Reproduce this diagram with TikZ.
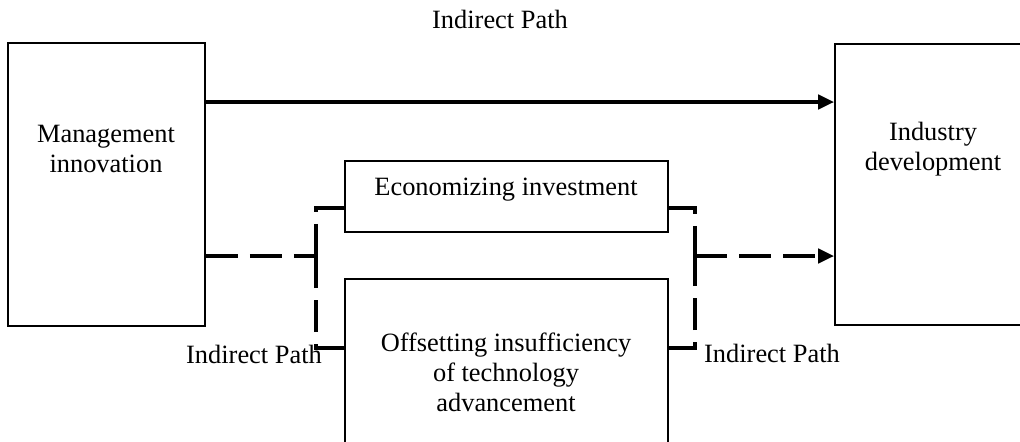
\documentclass[tikz,border=0pt]{standalone}
\usepackage{fontspec}
\setmainfont{Liberation Serif}
\usetikzlibrary{%
  arrows.meta,%
  calc%
}
\tikzset{>={Triangle[length=8pt,width=7pt]}}
\tikzset{
  box/.style={draw,line width=0.8pt,inner sep=0pt},
  txt/.style={align=center,inner sep=0pt,font=\fontsize{13.2}{15}\selectfont},
  pathline/.style={line width=2pt},
  dashline/.style={line width=2pt,dash pattern=on 16pt off 6pt}
}

\begin{document}
\begin{tikzpicture}[x=0.5pt,y=-0.5pt]
    \useasboundingbox (0,0) rectangle (1020,441);

    \node[box,minimum width=98.5pt,minimum height=141.5pt] (mgmt) at (106.5,184.5) {};
    \node[box,minimum width=97.5pt,minimum height=140.5pt] (ind) at (932.5,184.5) {};
    \node[box,minimum width=161.5pt,minimum height=35.5pt] (eco) at (506.5,196.5) {};
    \node[box,minimum width=161.5pt,minimum height=100pt] (off) at (506.5,379) {};

    \node[txt] (mgmttxt) at (106,149) {Management\\innovation};
    \node[txt] (indtxt) at (933,149) {Industry\\development};
    \node[txt] (ecotxt) at (506,190) {Economizing investment};
    \node[txt] (offtxt) at (506,372) {Offsetting insufficiency\\of technology\\advancement};

    \node[txt,anchor=base] (toplbl) at (500,28) {Indirect Path};
    \node[txt,anchor=base] (leftlbl) at (254,363) {Indirect Path};
    \node[txt,anchor=base] (rightlbl) at (772,362) {Indirect Path};

    \coordinate (lsplit) at (316,256);
    \coordinate (rsplit) at (695,256);

    \draw[pathline,->] (mgmt.east |- 0,102) -- (ind.west |- 0,102);

    \draw[dashline] (mgmt.east |- lsplit) -- (lsplit);
    \draw[dashline] (eco.west |- 0,208) -| (lsplit);
    \draw[dashline] (off.west |- 0,348) -| (lsplit);
    \draw[dashline] (eco.east |- 0,208) -| (rsplit);
    \draw[dashline] (off.east |- 0,348) -| (rsplit);
    \draw[dashline,->] (rsplit) -- (ind.west |- rsplit);
\end{tikzpicture}
\end{document}
